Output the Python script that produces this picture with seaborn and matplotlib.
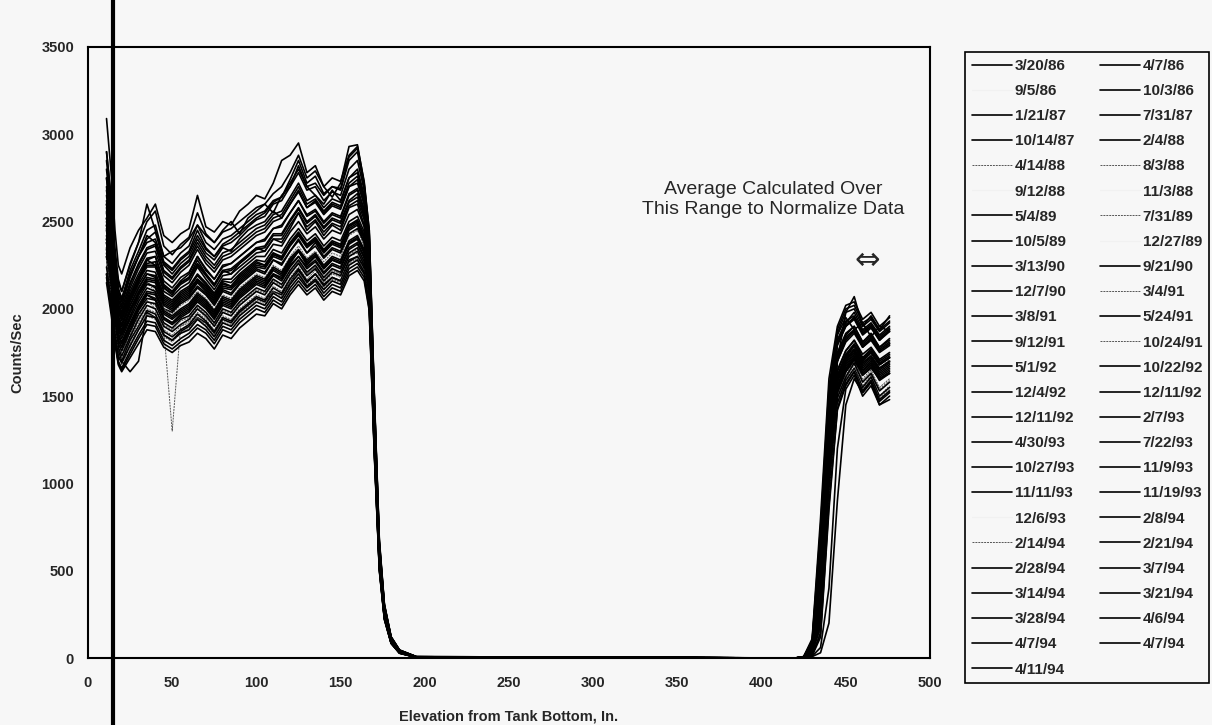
import pandas as pd
import seaborn as sns
import matplotlib.pyplot as plt

# elevation grid (in.) shared by every scan
elevation = [11, 14, 16, 18, 20, 25, 30, 35, 40, 45, 50, 55, 60, 65, 70, 75, 80, 85, 90, 95,
             100, 105, 110, 115, 120, 125, 130, 135, 140, 145, 150, 155, 160,
             164, 167, 170, 173, 176, 180, 185, 195, 420,
             425, 430, 435, 440, 445, 450, 455, 460, 465, 470, 476]

dates = ["3/20/86", "4/7/86", "9/5/86", "10/3/86", "1/21/87", "7/31/87", "10/14/87", "2/4/88",
         "4/14/88", "8/3/88", "9/12/88", "11/3/88", "5/4/89", "7/31/89", "10/5/89", "12/27/89",
         "3/13/90", "9/21/90", "12/7/90", "3/4/91", "3/8/91", "5/24/91", "9/12/91", "10/24/91",
         "5/1/92", "10/22/92", "12/4/92", "12/11/92", "12/11/92", "2/7/93", "4/30/93", "7/22/93",
         "10/27/93", "11/9/93", "11/11/93", "11/19/93", "12/6/93", "2/8/94", "2/14/94", "2/21/94",
         "2/28/94", "3/7/94", "3/14/94", "3/21/94", "3/28/94", "4/6/94", "4/7/94", "4/7/94", "4/11/94"]

# counts/sec per scan
s01 = [3090, 2750, 2450, 2250, 2200, 2350, 2450, 2520, 2600, 2420, 2380, 2430, 2460, 2650, 2470, 2440, 2500, 2480, 2560, 2600, 2650, 2630, 2720, 2850, 2880, 2950, 2780, 2820, 2700, 2640, 2720, 2930, 2940,
       2720, 2450, 1500, 650, 300, 120, 45, 8, 0,
       5, 40, 350, 1200, 1700, 1980, 2070, 1900, 1960, 1880, 1960]
s02 = [2900, 2600, 2300, 2150, 2100, 2250, 2380, 2600, 2450, 2300, 2330, 2350, 2400, 2480, 2420, 2380, 2450, 2500, 2430, 2520, 2560, 2600, 2550, 2650, 2700, 2820, 2700, 2650, 2600, 2680, 2620, 2750, 2800,
       2650, 2300, 1400, 620, 280, 110, 40, 6, 0,
       8, 90, 700, 1500, 1850, 1950, 1880, 1920, 1840, 1900, 1870]
s03 = [2500, 2300, 2150, 2050, 2000, 2100, 2180, 2250, 2230, 2150, 2120, 2180, 2200, 2230, 2200, 2160, 2250, 2280, 2240, 2300, 2330, 2350, 2400, 2380, 2450, 2500, 2420, 2480, 2400, 2450, 2470, 2550, 2530,
       2450, 2200, 1300, 580, 260, 100, 35, 5, 0,
       3, 30, 300, 1100, 1600, 1750, 1800, 1720, 1780, 1700, 1760]
s04 = [2800, 2500, 2250, 2100, 2050, 2200, 2300, 2420, 2380, 2250, 2200, 2260, 2300, 2400, 2320, 2280, 2350, 2330, 2400, 2450, 2480, 2500, 2560, 2520, 2600, 2680, 2580, 2620, 2550, 2600, 2580, 2700, 2720,
       2600, 2350, 1450, 640, 290, 115, 42, 7, 0,
       6, 70, 600, 1450, 1800, 1900, 1950, 1860, 1900, 1820, 1880]
s05 = [2600, 2350, 2100, 1950, 1900, 2050, 2150, 2280, 2250, 2120, 2080, 2150, 2180, 2280, 2200, 2140, 2220, 2200, 2260, 2300, 2350, 2330, 2400, 2380, 2460, 2550, 2450, 2500, 2420, 2480, 2450, 2580, 2600,
       2480, 2250, 1350, 600, 270, 105, 38, 6, 0,
       4, 50, 450, 1350, 1700, 1820, 1880, 1780, 1830, 1760, 1800]
s06 = [2400, 2200, 2000, 1880, 1850, 1950, 2080, 2150, 2120, 2000, 1980, 2030, 2060, 2120, 2080, 2020, 2100, 2080, 2140, 2180, 2220, 2200, 2280, 2260, 2330, 2400, 2320, 2380, 2300, 2350, 2330, 2450, 2480,
       2380, 2150, 1300, 560, 250, 95, 33, 5, 0,
       3, 35, 350, 1250, 1650, 1760, 1820, 1720, 1770, 1700, 1740]
s07 = [2300, 2100, 1950, 1820, 1780, 1900, 2000, 2080, 2050, 1950, 1920, 1970, 2000, 2060, 2020, 1960, 2040, 2020, 2080, 2120, 2160, 2140, 2200, 2180, 2260, 2330, 2250, 2300, 2230, 2280, 2260, 2380, 2400,
       2320, 2100, 1250, 540, 240, 90, 30, 4, 0,
       2, 25, 250, 1100, 1580, 1700, 1760, 1680, 1720, 1650, 1690]
s08 = [2200, 2000, 1850, 1720, 1700, 1640, 1700, 1980, 1950, 1850, 1820, 1870, 1900, 1950, 1920, 1860, 1940, 1920, 1980, 2020, 2060, 2040, 2100, 2080, 2150, 2220, 2150, 2200, 2140, 2180, 2160, 2280, 2300,
       2240, 2050, 1200, 520, 230, 88, 30, 4, 0,
       2, 20, 200, 1000, 1520, 1640, 1700, 1620, 1660, 1600, 1630]
s09 = [2350, 2150, 1950, 1800, 1750, 1850, 1950, 2050, 2000, 1880, 1300, 1900, 1930, 2000, 1950, 1900, 1980, 1960, 2020, 2060, 2100, 2080, 2150, 2120, 2200, 2270, 2200, 2240, 2180, 2230, 2200, 2320, 2350,
       2270, 2080, 1240, 530, 235, 90, 31, 4, 0,
       2, 22, 220, 1050, 1500, 1650, 1720, 1600, 1650, 1550, 1600]
s10 = [2450, 2250, 2050, 1920, 1880, 1980, 2050, 2150, 2100, 2000, 1970, 2020, 2050, 2100, 2060, 2000, 2080, 2060, 2120, 2160, 2200, 2180, 2250, 2220, 2300, 2360, 2290, 2330, 2270, 2320, 2300, 2420, 2450,
       2360, 2140, 1280, 550, 245, 93, 32, 5, 0,
       3, 30, 300, 1150, 1600, 1720, 1780, 1700, 1740, 1660, 1710]
s11 = [2550, 2350, 2150, 2000, 1950, 2080, 2180, 2250, 2220, 2100, 2080, 2130, 2160, 2220, 2180, 2120, 2200, 2180, 2240, 2280, 2320, 2300, 2370, 2340, 2420, 2480, 2400, 2450, 2380, 2430, 2410, 2520, 2550,
       2460, 2220, 1320, 570, 255, 98, 34, 5, 0,
       3, 32, 320, 1180, 1620, 1740, 1800, 1720, 1760, 1690, 1730]
s12 = [2650, 2400, 2200, 2050, 2000, 2120, 2220, 2300, 2270, 2160, 2130, 2180, 2210, 2270, 2230, 2170, 2250, 2230, 2290, 2330, 2370, 2350, 2420, 2390, 2470, 2530, 2450, 2500, 2430, 2480, 2460, 2570, 2600,
       2500, 2260, 1340, 585, 262, 100, 36, 5, 0,
       4, 40, 380, 1250, 1660, 1780, 1840, 1760, 1800, 1730, 1770]
s13 = [2750, 2450, 2250, 2080, 2020, 2180, 2300, 2380, 2400, 2260, 2220, 2280, 2320, 2420, 2340, 2300, 2360, 2380, 2420, 2470, 2510, 2530, 2600, 2620, 2700, 2780, 2680, 2700, 2620, 2670, 2650, 2800, 2850,
       2680, 2400, 1480, 660, 300, 118, 44, 7, 0,
       7, 80, 650, 1480, 1820, 1920, 1980, 1880, 1920, 1850, 1900]
s14 = [2300, 2100, 1900, 1760, 1720, 1830, 1920, 2000, 1980, 1880, 1850, 1900, 1920, 1980, 1940, 1880, 1960, 1940, 2000, 2040, 2080, 2060, 2130, 2100, 2180, 2240, 2170, 2220, 2150, 2200, 2180, 2300, 2320,
       2250, 2060, 1220, 525, 232, 88, 30, 4, 0,
       2, 18, 180, 950, 1480, 1600, 1680, 1560, 1620, 1500, 1560]
s15 = [2500, 2280, 2080, 1950, 1900, 2020, 2120, 2200, 2180, 2060, 2030, 2080, 2110, 2170, 2130, 2070, 2150, 2130, 2190, 2230, 2270, 2250, 2320, 2290, 2370, 2430, 2360, 2400, 2330, 2380, 2360, 2480, 2500,
       2420, 2190, 1310, 565, 252, 96, 33, 5, 0,
       3, 28, 280, 1120, 1600, 1720, 1790, 1700, 1750, 1680, 1720]
s16 = [2450, 2200, 2000, 1880, 1850, 1950, 2050, 2120, 2100, 1990, 1960, 2010, 2040, 2100, 2060, 2000, 2080, 2060, 2120, 2160, 2200, 2180, 2250, 2220, 2300, 2360, 2290, 2330, 2260, 2310, 2290, 2400, 2430,
       2350, 2130, 1270, 548, 244, 92, 32, 5, 0,
       3, 26, 260, 1080, 1580, 1700, 1760, 1680, 1720, 1650, 1700]
s17 = [2850, 2550, 2300, 2120, 2060, 2220, 2330, 2450, 2480, 2300, 2260, 2320, 2360, 2480, 2380, 2340, 2400, 2420, 2460, 2500, 2540, 2560, 2620, 2640, 2720, 2800, 2700, 2720, 2650, 2700, 2680, 2850, 2900,
       2700, 2420, 1500, 670, 305, 120, 45, 7, 0,
       8, 100, 750, 1550, 1880, 2000, 2020, 1920, 1950, 1880, 1930]
s18 = [2380, 2150, 1980, 1840, 1800, 1900, 2000, 2080, 2060, 1950, 1920, 1960, 1990, 2050, 2010, 1950, 2030, 2010, 2070, 2110, 2150, 2130, 2200, 2170, 2250, 2300, 2240, 2280, 2210, 2260, 2240, 2350, 2380,
       2300, 2100, 1250, 540, 240, 90, 31, 4, 0,
       2, 22, 230, 1020, 1540, 1660, 1720, 1640, 1690, 1610, 1650]
s19 = [2600, 2380, 2150, 2000, 1960, 2080, 2180, 2280, 2300, 2140, 2100, 2160, 2200, 2300, 2220, 2170, 2240, 2260, 2300, 2340, 2380, 2400, 2460, 2480, 2550, 2620, 2530, 2560, 2490, 2540, 2520, 2650, 2680,
       2560, 2300, 1400, 620, 280, 108, 39, 6, 0,
       5, 55, 500, 1380, 1750, 1860, 1900, 1810, 1860, 1780, 1830]
s20 = [2250, 2050, 1880, 1740, 1680, 1780, 1880, 1960, 1940, 1840, 1810, 1860, 1880, 1940, 1900, 1840, 1920, 1900, 1960, 2000, 2040, 2020, 2090, 2060, 2140, 2200, 2130, 2170, 2110, 2160, 2140, 2250, 2280,
       2210, 2030, 1200, 515, 228, 86, 29, 4, 0,
       2, 15, 150, 900, 1450, 1580, 1650, 1540, 1600, 1480, 1530]
s21 = [2700, 2450, 2200, 2060, 2000, 2150, 2260, 2350, 2370, 2220, 2180, 2240, 2280, 2380, 2300, 2250, 2320, 2340, 2380, 2420, 2460, 2480, 2540, 2560, 2640, 2720, 2620, 2650, 2580, 2630, 2610, 2750, 2780,
       2640, 2370, 1450, 645, 292, 114, 42, 7, 0,
       6, 75, 620, 1460, 1820, 1930, 1960, 1870, 1910, 1840, 1890]
s22 = [2420, 2200, 2020, 1880, 1830, 1940, 2040, 2120, 2100, 1990, 1960, 2000, 2030, 2090, 2050, 1990, 2070, 2050, 2110, 2150, 2190, 2170, 2240, 2210, 2290, 2340, 2280, 2320, 2250, 2300, 2280, 2390, 2420,
       2340, 2120, 1270, 550, 245, 93, 32, 5, 0,
       3, 25, 250, 1060, 1560, 1690, 1750, 1670, 1710, 1640, 1680]
s23 = [2550, 2320, 2120, 1980, 1930, 2060, 2160, 2240, 2240, 2100, 2070, 2120, 2150, 2240, 2170, 2110, 2190, 2200, 2240, 2280, 2320, 2330, 2400, 2400, 2480, 2550, 2470, 2510, 2440, 2490, 2470, 2590, 2620,
       2510, 2260, 1360, 600, 268, 103, 37, 6, 0,
       4, 45, 420, 1300, 1700, 1810, 1860, 1780, 1820, 1750, 1790]
s24 = [2350, 2120, 1950, 1800, 1750, 1860, 1960, 2040, 2020, 1910, 1880, 1930, 1950, 2010, 1970, 1910, 1990, 1970, 2030, 2070, 2110, 2090, 2160, 2130, 2210, 2270, 2200, 2240, 2170, 2220, 2200, 2310, 2340,
       2260, 2070, 1230, 530, 236, 89, 30, 4, 0,
       2, 20, 200, 980, 1500, 1620, 1700, 1590, 1640, 1540, 1590]
s25 = [2650, 2400, 2180, 2030, 1980, 2120, 2230, 2320, 2330, 2190, 2150, 2210, 2250, 2340, 2260, 2210, 2280, 2300, 2340, 2380, 2420, 2440, 2500, 2520, 2600, 2670, 2580, 2610, 2540, 2590, 2570, 2700, 2740,
       2600, 2340, 1430, 635, 287, 111, 40, 6, 0,
       6, 65, 560, 1420, 1790, 1900, 1940, 1850, 1890, 1820, 1870]
s26 = [2480, 2250, 2060, 1920, 1870, 1990, 2090, 2170, 2160, 2040, 2010, 2060, 2090, 2160, 2110, 2050, 2130, 2120, 2170, 2210, 2250, 2240, 2310, 2290, 2370, 2430, 2360, 2400, 2330, 2380, 2360, 2470, 2500,
       2410, 2180, 1300, 560, 250, 95, 33, 5, 0,
       3, 30, 290, 1130, 1600, 1730, 1790, 1710, 1750, 1680, 1720]
s27 = [2350, 2120, 1940, 1800, 1760, 1870, 1970, 2040, 2030, 1920, 1890, 1940, 1960, 2020, 1980, 1920, 2000, 1980, 2040, 2080, 2120, 2100, 2170, 2140, 2220, 2280, 2210, 2250, 2180, 2230, 2210, 2320, 2350,
       2270, 2080, 1240, 535, 238, 90, 31, 4, 0,
       2, 20, 200, 1000, 1520, 1640, 1710, 1620, 1670, 1590, 1630]
s28 = [2200, 2000, 1820, 1700, 1660, 1760, 1850, 1930, 1920, 1820, 1790, 1830, 1860, 1910, 1880, 1820, 1900, 1880, 1940, 1980, 2020, 2000, 2070, 2040, 2120, 2180, 2120, 2160, 2090, 2140, 2120, 2230, 2260,
       2200, 2020, 1190, 510, 225, 85, 28, 4, 0,
       2, 12, 120, 850, 1420, 1560, 1640, 1520, 1580, 1470, 1520]
s29 = [2300, 2080, 1900, 1760, 1700, 1820, 1900, 1990, 1970, 1870, 1840, 1880, 1910, 1970, 1930, 1870, 1950, 1930, 1990, 2030, 2070, 2050, 2120, 2090, 2170, 2230, 2160, 2200, 2130, 2180, 2160, 2270, 2300,
       2230, 2050, 1210, 520, 230, 87, 29, 4, 0,
       2, 16, 160, 920, 1460, 1590, 1660, 1550, 1610, 1500, 1550]
s30 = [2450, 2220, 2040, 1900, 1850, 1960, 2060, 2140, 2130, 2020, 1990, 2040, 2070, 2130, 2090, 2030, 2110, 2090, 2150, 2190, 2230, 2210, 2280, 2250, 2330, 2390, 2320, 2360, 2290, 2340, 2320, 2430, 2460,
       2380, 2150, 1290, 555, 248, 94, 33, 5, 0,
       3, 28, 280, 1100, 1590, 1710, 1770, 1690, 1730, 1660, 1700]
s31 = [2580, 2350, 2140, 2000, 1950, 2080, 2180, 2260, 2270, 2130, 2100, 2150, 2180, 2260, 2200, 2140, 2220, 2230, 2270, 2310, 2350, 2360, 2430, 2430, 2510, 2580, 2500, 2540, 2470, 2520, 2500, 2620, 2660,
       2540, 2280, 1380, 610, 275, 106, 38, 6, 0,
       4, 50, 460, 1340, 1720, 1840, 1880, 1800, 1840, 1770, 1810]
s32 = [2150, 1950, 1800, 1680, 1640, 1720, 1800, 1880, 1870, 1780, 1750, 1790, 1810, 1860, 1830, 1770, 1850, 1830, 1890, 1930, 1970, 1960, 2030, 2000, 2080, 2140, 2080, 2120, 2050, 2100, 2080, 2190, 2220,
       2160, 1990, 1170, 500, 220, 83, 27, 3, 0,
       1, 10, 60, 400, 1200, 1540, 1620, 1500, 1560, 1450, 1500]
s33 = [2750, 2500, 2260, 2100, 2040, 2190, 2300, 2400, 2440, 2270, 2230, 2290, 2330, 2450, 2350, 2300, 2370, 2400, 2440, 2480, 2520, 2550, 2610, 2640, 2740, 2850, 2720, 2760, 2660, 2700, 2690, 2870, 2920,
       2710, 2430, 1490, 665, 302, 119, 44, 7, 0,
       7, 90, 700, 1520, 1860, 1980, 2000, 1900, 1940, 1870, 1920]
s34 = [2400, 2180, 2000, 1860, 1810, 1920, 2020, 2100, 2090, 1980, 1950, 1990, 2020, 2080, 2040, 1980, 2060, 2040, 2100, 2140, 2180, 2160, 2230, 2200, 2280, 2330, 2270, 2310, 2240, 2290, 2270, 2380, 2410,
       2330, 2110, 1260, 545, 243, 92, 32, 5, 0,
       3, 24, 240, 1040, 1550, 1680, 1740, 1660, 1700, 1630, 1670]
s35 = [2520, 2300, 2100, 1960, 1910, 2040, 2140, 2220, 2210, 2080, 2050, 2100, 2130, 2200, 2150, 2090, 2170, 2170, 2220, 2260, 2300, 2300, 2370, 2360, 2440, 2500, 2430, 2470, 2400, 2450, 2430, 2540, 2570,
       2470, 2230, 1330, 580, 258, 99, 35, 5, 0,
       3, 38, 360, 1220, 1640, 1760, 1820, 1740, 1780, 1710, 1750]
s36 = [2320, 2100, 1920, 1780, 1730, 1840, 1940, 2020, 2000, 1900, 1870, 1910, 1940, 2000, 1960, 1900, 1980, 1960, 2020, 2060, 2100, 2080, 2150, 2120, 2200, 2260, 2190, 2230, 2160, 2210, 2190, 2300, 2330,
       2250, 2060, 1220, 528, 234, 88, 30, 4, 0,
       2, 18, 190, 970, 1490, 1610, 1690, 1580, 1630, 1530, 1580]
s37 = [2400, 2200, 2000, 1870, 1820, 1930, 2030, 2110, 2100, 1990, 1960, 2000, 2030, 2090, 2050, 1990, 2070, 2050, 2110, 2150, 2190, 2170, 2240, 2210, 2290, 2350, 2280, 2320, 2250, 2300, 2280, 2390, 2420,
       2340, 2120, 1265, 548, 244, 92, 32, 5, 0,
       3, 25, 250, 1050, 1560, 1690, 1750, 1670, 1710, 1640, 1680]
s38 = [2620, 2380, 2160, 2020, 1970, 2100, 2200, 2290, 2300, 2160, 2120, 2180, 2210, 2300, 2230, 2170, 2250, 2260, 2300, 2340, 2380, 2390, 2460, 2470, 2550, 2620, 2540, 2570, 2500, 2550, 2530, 2660, 2690,
       2570, 2310, 1400, 620, 280, 108, 39, 6, 0,
       5, 55, 490, 1370, 1740, 1850, 1900, 1810, 1850, 1780, 1820]
s39 = [2280, 2060, 1880, 1740, 1690, 1800, 1890, 1970, 1950, 1850, 1820, 1860, 1890, 1950, 1910, 1850, 1930, 1910, 1970, 2010, 2050, 2030, 2100, 2070, 2150, 2210, 2140, 2180, 2120, 2170, 2150, 2260, 2290,
       2220, 2040, 1200, 518, 229, 86, 29, 4, 0,
       2, 15, 150, 900, 1440, 1570, 1650, 1540, 1590, 1490, 1540]
s40 = [2480, 2260, 2070, 1930, 1880, 2000, 2100, 2180, 2170, 2050, 2020, 2070, 2100, 2170, 2120, 2060, 2140, 2130, 2180, 2220, 2260, 2250, 2320, 2300, 2380, 2440, 2370, 2410, 2340, 2390, 2370, 2480, 2510,
       2420, 2190, 1300, 565, 252, 96, 33, 5, 0,
       3, 30, 290, 1130, 1610, 1730, 1790, 1710, 1750, 1680, 1720]
s41 = [2560, 2330, 2130, 1990, 1940, 2070, 2170, 2250, 2250, 2120, 2090, 2140, 2170, 2250, 2190, 2130, 2210, 2220, 2260, 2300, 2340, 2350, 2420, 2420, 2500, 2570, 2490, 2530, 2460, 2510, 2490, 2610, 2640,
       2530, 2270, 1370, 605, 272, 105, 37, 6, 0,
       4, 48, 440, 1320, 1710, 1830, 1870, 1790, 1830, 1760, 1800]
s42 = [2180, 1980, 1810, 1690, 1650, 1740, 1830, 1910, 1900, 1800, 1770, 1810, 1840, 1890, 1860, 1800, 1880, 1860, 1920, 1960, 2000, 1980, 2050, 2020, 2100, 2160, 2100, 2140, 2070, 2120, 2100, 2210, 2240,
       2180, 2000, 1180, 505, 222, 84, 28, 3, 0,
       1, 8, 30, 200, 900, 1450, 1600, 1520, 1580, 1450, 1480]
s43 = [2340, 2130, 1960, 1820, 1780, 1880, 1990, 2060, 2050, 1940, 1910, 1950, 1980, 2040, 2000, 1940, 2020, 2000, 2060, 2100, 2140, 2120, 2190, 2160, 2240, 2300, 2230, 2270, 2200, 2250, 2230, 2340, 2370,
       2290, 2090, 1245, 538, 239, 90, 31, 4, 0,
       2, 21, 210, 1010, 1530, 1650, 1720, 1630, 1680, 1600, 1640]
s44 = [2680, 2420, 2200, 2050, 2000, 2140, 2250, 2340, 2360, 2210, 2170, 2230, 2270, 2360, 2280, 2230, 2300, 2320, 2360, 2400, 2440, 2460, 2520, 2540, 2620, 2700, 2600, 2630, 2560, 2610, 2590, 2720, 2760,
       2620, 2350, 1440, 640, 290, 112, 41, 6, 0,
       6, 70, 590, 1440, 1800, 1910, 1950, 1860, 1900, 1830, 1880]
s45 = [2460, 2240, 2050, 1910, 1860, 1980, 2080, 2160, 2150, 2030, 2000, 2050, 2080, 2150, 2100, 2040, 2120, 2110, 2160, 2200, 2240, 2230, 2300, 2280, 2360, 2420, 2350, 2390, 2320, 2370, 2350, 2460, 2490,
       2400, 2170, 1295, 558, 249, 95, 33, 5, 0,
       3, 28, 270, 1100, 1590, 1710, 1770, 1690, 1730, 1660, 1700]
s46 = [2240, 2030, 1860, 1730, 1690, 1790, 1880, 1960, 1950, 1850, 1820, 1860, 1880, 1940, 1900, 1840, 1920, 1900, 1960, 2000, 2040, 2020, 2090, 2060, 2140, 2200, 2130, 2170, 2110, 2160, 2140, 2250, 2280,
       2210, 2030, 1200, 512, 226, 85, 28, 4, 0,
       2, 14, 140, 880, 1430, 1570, 1640, 1530, 1590, 1480, 1530]
s47 = [2900, 2620, 2350, 2170, 2100, 2260, 2380, 2500, 2560, 2360, 2310, 2370, 2410, 2550, 2430, 2380, 2440, 2460, 2500, 2540, 2580, 2600, 2660, 2700, 2780, 2880, 2750, 2790, 2700, 2750, 2730, 2880, 2930,
       2730, 2450, 1520, 680, 310, 122, 46, 8, 0,
       8, 110, 800, 1600, 1900, 2020, 2040, 1940, 1980, 1900, 1950]
s48 = [2520, 2290, 2090, 1950, 1900, 2020, 2120, 2200, 2190, 2070, 2040, 2090, 2120, 2190, 2140, 2080, 2160, 2150, 2200, 2240, 2280, 2270, 2340, 2320, 2400, 2460, 2390, 2430, 2360, 2410, 2390, 2500, 2530,
       2440, 2200, 1310, 570, 254, 97, 34, 5, 0,
       3, 32, 310, 1160, 1620, 1740, 1800, 1720, 1760, 1690, 1730]
s49 = [2380, 2160, 1980, 1850, 1800, 1910, 2010, 2090, 2080, 1970, 1940, 1980, 2010, 2070, 2030, 1970, 2050, 2030, 2090, 2130, 2170, 2150, 2220, 2190, 2270, 2330, 2260, 2300, 2230, 2280, 2260, 2370, 2400,
       2320, 2100, 1255, 542, 241, 91, 31, 4, 0,
       2, 23, 230, 1030, 1540, 1670, 1730, 1650, 1690, 1620, 1660]

scans = [s01, s02, s03, s04, s05, s06, s07, s08, s09, s10, s11, s12, s13, s14, s15, s16, s17,
         s18, s19, s20, s21, s22, s23, s24, s25, s26, s27, s28, s29, s30, s31, s32, s33, s34,
         s35, s36, s37, s38, s39, s40, s41, s42, s43, s44, s45, s46, s47, s48, s49]

# how each trace reproduced in the scan: k = solid black, g = faint grey, n = not visible
trace_kind = ["k", "k", "n", "k", "k", "k", "k", "k", "g", "g", "n", "n", "k", "g", "k", "n",
              "k", "k", "k", "g", "k", "k", "k", "g", "k", "k", "k", "k", "k", "k", "k", "k",
              "k", "k", "k", "k", "n", "k", "g", "k", "k", "k", "k", "k", "k", "k", "k", "k", "k"]

marker_x = 15          # heavy vertical mark on the scanned page
note_xy = (407, 2625)
arrow_xy = (463, 2280)

bg = "#f7f7f7"
sns.set_style("white")
plt.rcParams["font.family"] = ["Liberation Sans", "DejaVu Sans"]

runs = [f"run{i:02d}" for i in range(len(scans))]
frames = []
for run, vals in zip(runs, scans):
    frames.append(pd.DataFrame({"elevation": elevation, "counts": vals, "run": run}))
df = pd.concat(frames, ignore_index=True)

kind_color = {"k": "black", "g": "#555555", "n": "#f1f1f1"}
kind_lw = {"k": 1.2, "g": 0.7, "n": 0.8}
palette = {run: kind_color[k] for run, k in zip(runs, trace_kind)}

fig = plt.figure(figsize=(12.12, 7.25), dpi=100, facecolor=bg)
ax = fig.add_axes([88 / 1212, 1 - 658 / 725, (930 - 88) / 1212, (658 - 47) / 725])
ax.set_facecolor(bg)

sns.lineplot(data=df, x="elevation", y="counts", hue="run", hue_order=runs, palette=palette,
             estimator=None, sort=False, legend=False, ax=ax)

handles = list(ax.lines[:len(runs)])
for line, k in zip(handles, trace_kind):
    line.set_linewidth(kind_lw[k])
    line.set_zorder(1 if k == "n" else 2)
    if k == "g":
        line.set_linestyle((0, (2, 1)))

ax.set_xlim(0, 500)
ax.set_ylim(0, 3500)
ax.set_xticks(range(0, 501, 50))
ax.set_yticks(range(0, 3501, 500))
ax.tick_params(axis="y", direction="out", length=5, width=1.2, pad=5, labelsize=10.5)
ax.tick_params(axis="x", direction="inout", length=8, width=1.2, pad=9, labelsize=10.5)
for lab in ax.get_xticklabels() + ax.get_yticklabels():
    lab.set_fontweight("bold")
for sp in ax.spines.values():
    sp.set_linewidth(1.5)
    sp.set_color("black")

ax.set_xlabel("Elevation from Tank Bottom, In.", fontsize=10.5, fontweight="bold", labelpad=14)
ax.set_ylabel("Counts/Sec", fontsize=10.5, fontweight="bold", labelpad=12)

ax.axvline(marker_x, ymin=-0.11, ymax=1.08, color="black", lw=3, clip_on=False, zorder=5)

ax.text(note_xy[0], note_xy[1], "Average Calculated Over\nThis Range to Normalize Data",
        ha="center", va="center", fontsize=14, linespacing=1.2)
ax.text(arrow_xy[0], arrow_xy[1], "\u21d4", ha="center", va="center", fontsize=22,
        family=["DejaVu Sans"])

# legend fills row by row in the original
order = list(range(0, len(runs), 2)) + list(range(1, len(runs), 2))
leg = fig.legend([handles[i] for i in order], [dates[i] for i in order],
                 loc="upper left", bbox_to_anchor=(965 / 1212, 1 - 52 / 725), ncol=2,
                 frameon=True, fancybox=False, edgecolor="black", facecolor=bg, framealpha=1,
                 prop={"weight": "bold", "size": 11}, handlelength=2.6, handletextpad=0.2,
                 columnspacing=1.7, labelspacing=0.73, borderpad=0.45, borderaxespad=0)
leg.get_frame().set_linewidth(1.2)

fig.savefig("out.png", dpi=100, facecolor=bg)
